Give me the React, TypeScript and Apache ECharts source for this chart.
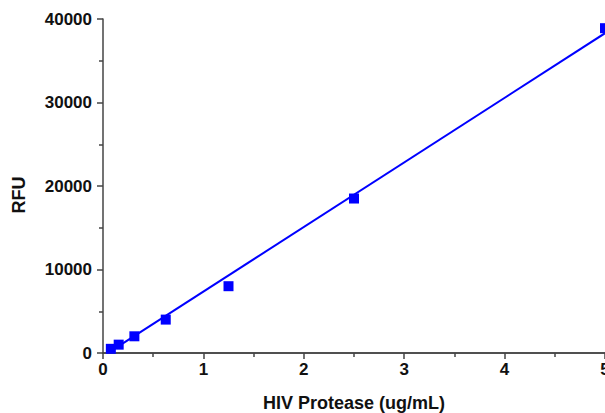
import React, { useEffect, useRef } from "react";
import * as echarts from "echarts";

const concentrations = [0.078125, 0.15625, 0.3125, 0.625, 1.25, 2.5, 5];
const rfu = [500, 1000, 2000, 4000, 8000, 18500, 38900];
const fitX = [0.078, 5];
const fitY = [220, 38300];
const xTicks = [0, 1, 2, 3, 4, 5];
const yTicks = [0, 10000, 20000, 30000, 40000];

export default function App() {
  const ref = useRef<HTMLDivElement>(null);
  useEffect(() => {
    if (!ref.current) return;
    const chart = echarts.init(ref.current, null, { renderer: "svg" });
    const font = { fontFamily: "Liberation Sans, Arial, sans-serif", fontWeight: "bold" as const, fontSize: 17, color: "#111" };
    const titleFont = { ...font, fontSize: 18 };
    const axisLine = { lineStyle: { color: "#444", width: 1.5 } };
    chart.setOption({
      animation: false,
      grid: { left: 103, right: 0, top: 19, bottom: 60, containLabel: false, outerBoundsMode: "none" },
      xAxis: [
        {
          type: "value",
          min: xTicks[0],
          max: xTicks[xTicks.length - 1],
          interval: 1,
          name: "HIV Protease (ug/mL)",
          nameLocation: "middle",
          nameGap: 41,
          nameTextStyle: { ...titleFont },
          axisLine: { ...axisLine, onZero: false },
          axisTick: { show: true, inside: false, length: 6, lineStyle: { color: "#444", width: 1.5 } },
          minorTick: { show: true, splitNumber: 2, length: 4, lineStyle: { color: "#444", width: 1.5 } },
          axisLabel: { ...font, margin: 8, formatter: (v: number) => String(v), hideOverlap: false },
          splitLine: { show: false },
        },
        {
          type: "value",
          position: "top",
          min: 0,
          max: 5,
          axisLine: { ...axisLine },
          axisTick: { show: false },
          axisLabel: { show: false },
          splitLine: { show: false },
        },
      ],
      yAxis: {
        type: "value",
        min: yTicks[0],
        max: yTicks[yTicks.length - 1],
        interval: 10000,
        name: "RFU",
        nameLocation: "middle",
        nameGap: 75,
        nameRotate: 90,
        nameTextStyle: { ...titleFont, padding: [0, 18, 0, 0] },
        axisLine: { ...axisLine, show: true, onZero: false },
        axisTick: { show: true, inside: false, length: 6, lineStyle: { color: "#444", width: 1.5 } },
        minorTick: { show: true, splitNumber: 2, length: 4, lineStyle: { color: "#444", width: 1.5 } },
        axisLabel: { ...font, margin: 11, formatter: (v: number) => String(v) },
        splitLine: { show: false },
      },
      series: [
        {
          type: "line",
          data: fitX.map((x, i) => [x, fitY[i]]),
          showSymbol: false,
          symbol: "none",
          lineStyle: { color: "#0000ff", width: 2 },
          z: 2,
        },
        {
          type: "scatter",
          data: concentrations.map((x, i) => [x, rfu[i]]),
          symbol: "rect",
          symbolSize: 10,
          itemStyle: { color: "#0000ff", opacity: 1 },
          z: 3,
        },
      ],
    });
    return () => chart.dispose();
  }, []);
  return <div ref={ref} style={{ width: 605, height: 413, position: "absolute", left: 0, top: 0 }} />;
}
